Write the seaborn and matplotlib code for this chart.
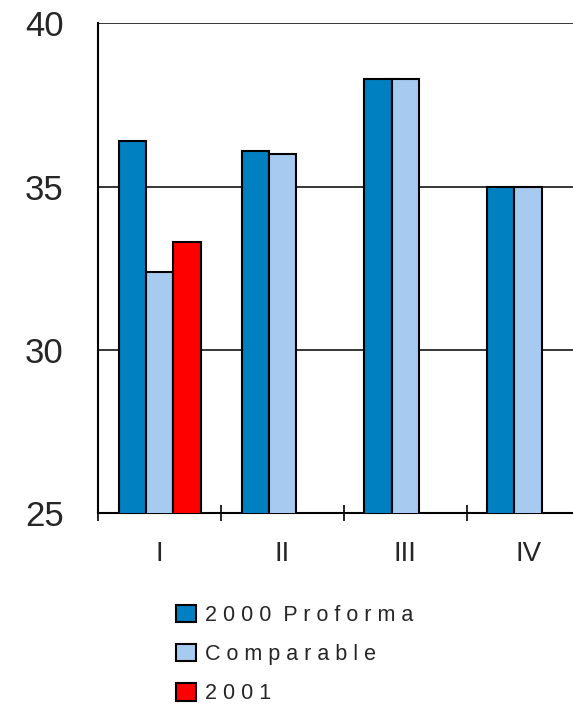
import matplotlib
matplotlib.use("Agg")
import matplotlib.pyplot as plt
from matplotlib.patches import Patch
import pandas as pd
import seaborn as sns

# Quarterly values per series
quarters = ["I", "II", "III", "IV"]
series_names = ["2000 Proforma", "Comparable", "2001"]
proforma_2000 = [36.4, 36.1, 38.3, 35.0]
comparable = [32.4, 36.0, 38.3, 35.0]
actual_2001 = [33.3]          # only the first quarter is reported
colors = ["#0080C0", "#A6CAF0", "#FF0000"]

rows = []
for q, v in zip(quarters, proforma_2000):
    rows.append((q, series_names[0], v))
for q, v in zip(quarters, comparable):
    rows.append((q, series_names[1], v))
for q, v in zip(quarters, actual_2001):
    rows.append((q, series_names[2], v))
df = pd.DataFrame(rows, columns=["quarter", "series", "value"])

sns.set_style("white")
plt.rcParams["font.family"] = ["Liberation Sans", "DejaVu Sans"]

fig = plt.figure(figsize=(5.73, 7.04), dpi=100)
ax = fig.add_axes([0.1716, 0.2709, 0.8572, 0.6960])

sns.barplot(
    data=df, x="quarter", y="value", hue="series",
    order=quarters, hue_order=series_names, palette=colors,
    saturation=1, width=2 / 3, edgecolor="black", linewidth=1.5,
    errorbar=None, legend=False, ax=ax, zorder=3,
)

ax.set_xlim(-0.5, 3.5)
ax.set_ylim(25, 40)
ax.set_yticks([25, 30, 35, 40])
ax.set_xlabel("")
ax.set_ylabel("")

# horizontal gridlines
ax.yaxis.grid(True, color="black", linewidth=1.1, zorder=0)
ax.xaxis.grid(False)
ax.set_axisbelow(True)

for side in ("top", "right"):
    ax.spines[side].set_visible(False)
for side in ("left", "bottom"):
    ax.spines[side].set_color("black")
    ax.spines[side].set_linewidth(1.5)

# category labels centred, tick marks on category boundaries
ax.set_xticks(range(len(quarters)))
ax.set_xticklabels(quarters)
ax.tick_params(axis="x", which="major", length=0, pad=20, labelsize=20)
ax.set_xticks([-0.5, 0.5, 1.5, 2.5, 3.5], minor=True)
ax.tick_params(axis="x", which="minor", direction="inout", length=12,
               width=1.2, color="black", bottom=True)
ax.tick_params(axis="y", length=0, pad=25, labelsize=25)


def tracked(text):
    return "  ".join(" ".join(word) for word in text.split(" "))


handles = [Patch(facecolor=c, edgecolor="black", linewidth=1.5) for c in colors]
fig.legend(
    handles, [tracked(s) for s in series_names],
    loc="upper left", bbox_to_anchor=(0.308, 0.141),
    frameon=False, fontsize=15.5, borderpad=0, borderaxespad=0,
    handlelength=0.92, handleheight=0.85, handletextpad=0.42,
    labelspacing=0.85,
)

fig.savefig("out.png", dpi=100)
